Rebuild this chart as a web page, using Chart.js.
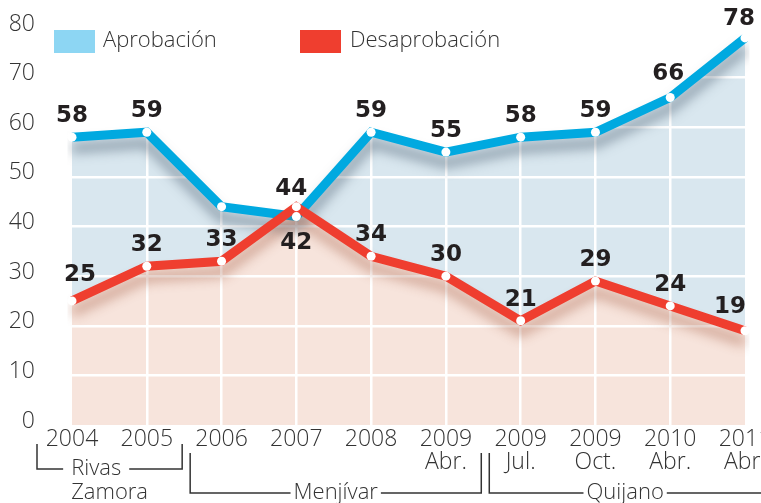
<!DOCTYPE html>
<html>
<head>
<meta charset="utf-8">
<script src="https://cdn.jsdelivr.net/npm/chart.js@4"></script>
<style>
  html, body { margin: 0; padding: 0; background: #fff; }
  #wrap { position: relative; width: 761px; height: 503px; }
</style>
</head>
<body>
<div id="wrap"><canvas id="chart"></canvas></div>
<script>
// data
const years = ['2004', '2005', '2006', '2007', '2008', '2009', '2009', '2009', '2010', '2011'];
const periods = ['', '', '', '', '', 'Abr.', 'Jul.', 'Oct.', 'Abr.', 'Abr.'];
const approval = [58, 59, 44, 42, 59, 55, 58, 59, 66, 78];
const disapproval = [25, 32, 33, 44, 34, 30, 21, 29, 24, 19];
const presidents = ['Rivas\nZamora', 'Menjívar', 'Quijano'];
const presidentFirst = [0, 2, 6];
const presidentLast = [1, 5, 9];

const labels = years.map((y, i) => periods[i] ? [y, periods[i]] : y);

const FAMILY = '"Open Sans", "Liberation Sans", sans-serif';
const LIGHT = '300 22px ' + FAMILY;
const TEXT = '#333';

// blurred drop shadow under each line
const lineShadow = {
  id: 'lineShadow',
  beforeDatasetDraw(chart, args) {
    const ctx = chart.ctx;
    ctx.save();
    ctx.shadowColor = args.index === 0 ? 'rgba(60,80,100,0.5)' : 'rgba(150,70,40,0.42)';
    ctx.shadowBlur = 12;
    ctx.shadowOffsetY = 11;
  },
  afterDatasetDraw(chart) {
    chart.ctx.restore();
  }
};

// white dots + value labels
const labelTweaks = {
  '0-2': null,
  '0-3': { dy: 26 },
  '0-8': { dx: -2, dy: -23 },
  '0-9': { dx: -6, dy: -19 },
  '1-0': { dx: 8, dy: -26 },
  '1-3': { dx: -5, dy: -18 },
  '1-9': { dx: -15, dy: -24 }
};
const valueLabels = {
  id: 'valueLabels',
  afterDatasetsDraw(chart) {
    const ctx = chart.ctx;
    ctx.save();
    chart.data.datasets.forEach((ds, di) => {
      chart.getDatasetMeta(di).data.forEach((pt) => {
        ctx.fillStyle = '#fff';
        ctx.beginPath();
        ctx.arc(pt.x, pt.y, 4.5, 0, Math.PI * 2);
        ctx.fill();
      });
    });
    ctx.font = 'bold 23px "DejaVu Sans", sans-serif';
    ctx.fillStyle = '#231f20';
    ctx.textAlign = 'center';
    ctx.textBaseline = 'middle';
    chart.data.datasets.forEach((ds, di) => {
      chart.getDatasetMeta(di).data.forEach((pt, i) => {
        const key = di + '-' + i;
        let t = { dx: 0, dy: -21 };
        if (key in labelTweaks) {
          if (labelTweaks[key] === null) return;
          t = Object.assign(t, labelTweaks[key]);
        }
        ctx.fillText(String(ds.data[i]), pt.x + t.dx, pt.y + t.dy);
      });
    });
    ctx.restore();
  }
};

// legend boxes inside the plot
const insideLegend = {
  id: 'insideLegend',
  afterDraw(chart) {
    const ctx = chart.ctx;
    ctx.save();
    ctx.font = LIGHT;
    ctx.textBaseline = 'middle';
    ctx.fillStyle = '#8dd6f3';
    ctx.fillRect(54, 30, 41, 23);
    ctx.fillStyle = '#ef3e2f';
    ctx.fillRect(300, 30, 41, 23);
    ctx.fillStyle = TEXT;
    ctx.fillText('Aprobación', 103, 41);
    ctx.fillText('Desaprobación', 350, 41);
    ctx.restore();
  }
};

// president brackets under the x axis
const brackets = {
  id: 'brackets',
  afterDraw(chart) {
    const ctx = chart.ctx;
    const x = chart.scales.x;
    const px = (i) => x.getPixelForValue(i);
    ctx.save();
    ctx.font = LIGHT;
    ctx.strokeStyle = '#333';
    ctx.fillStyle = TEXT;
    ctx.lineWidth = 1.5;
    ctx.textBaseline = 'middle';
    presidents.forEach((name, g) => {
      const a = presidentFirst[g], b = presidentLast[g];
      const left = a === 0 ? px(0) - 35 : (px(a - 1) + px(a)) / 2 + 6;
      const right = b === years.length - 1 ? chart.width : (px(b) + px(b + 1)) / 2 - 2;
      const lines = name.split('\n');
      const baseY = 493 - (lines.length - 1) * 24;
      const topY = 453 - (lines.length - 1) * 9;
      const widths = lines.map((l) => ctx.measureText(l).width);
      const blockW = Math.max(...widths);
      const tx = (left + right) / 2 - blockW / 2;
      const gap = lines.length > 1 ? 8 : 3;
      ctx.beginPath();
      ctx.moveTo(left, topY);
      ctx.lineTo(left, baseY);
      ctx.lineTo(tx - gap, baseY);
      ctx.moveTo(tx + widths[0] + gap, baseY);
      ctx.lineTo(right, baseY);
      if (b !== years.length - 1) ctx.lineTo(right, topY);
      ctx.stroke();
      lines.forEach((l, k) => ctx.fillText(l, tx, baseY + k * 24));
    });
    ctx.restore();
  }
};

new Chart(document.getElementById('chart'), {
  type: 'line',
  data: {
    labels,
    datasets: [
      {
        label: 'Aprobación',
        data: approval,
        order: 1,
        borderColor: '#00a9e0',
        backgroundColor: '#d9e7ef',
        borderWidth: 9,
        borderJoinStyle: 'miter',
        pointRadius: 0,
        fill: 'origin',
        tension: 0
      },
      {
        label: 'Desaprobación',
        data: disapproval,
        order: 0,
        borderColor: '#ef3e2f',
        backgroundColor: '#f7e4dc',
        borderWidth: 9,
        borderJoinStyle: 'miter',
        pointRadius: 0,
        fill: 'origin',
        tension: 0
      }
    ]
  },
  options: {
    responsive: true,
    maintainAspectRatio: false,
    animation: false,
    layout: { autoPadding: false, padding: { top: 28, right: 16, left: 0, bottom: 0 } },
    plugins: {
      legend: { display: false },
      tooltip: { enabled: false },
      filler: { drawTime: 'beforeDraw' }
    },
    scales: {
      x: {
        offset: false,
        border: { display: false },
        grid: {
          drawTicks: false,
          lineWidth: 2.5,
          color: (c) => (c.index === 0 || c.index === years.length - 1) ? 'rgba(0,0,0,0)' : '#fff'
        },
        ticks: {
          padding: 3,
          maxRotation: 0,
          autoSkip: false,
          color: TEXT,
          font: { family: FAMILY, size: 23, weight: '300', lineHeight: 1.0 }
        },
        afterFit: (s) => { s.height = 78; s.paddingLeft = 0; s.paddingRight = 0; }
      },
      y: {
        min: 0,
        max: 80,
        border: { display: false },
        grid: {
          drawTicks: false,
          lineWidth: 2.5,
          color: (c) => c.tick && c.tick.value === 0 ? 'rgba(0,0,0,0)' : '#fff'
        },
        ticks: {
          stepSize: 10,
          padding: 37,
          labelOffset: -4,
          color: TEXT,
          font: { family: FAMILY, size: 23, weight: '300' }
        },
        afterFit: (s) => { s.width = 72; s.paddingTop = 0; s.paddingBottom = 0; }
      }
    }
  },
  plugins: [lineShadow, valueLabels, insideLegend, brackets]
});
</script>
</body>
</html>
